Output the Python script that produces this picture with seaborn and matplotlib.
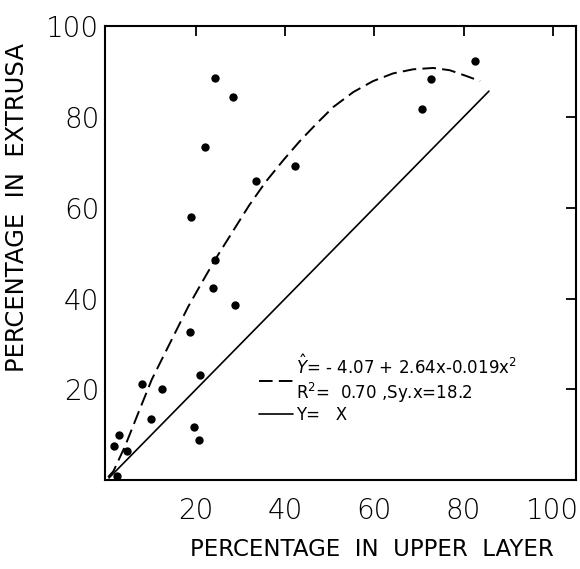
import matplotlib
matplotlib.use("Agg")
import matplotlib.pyplot as plt
from matplotlib.lines import Line2D
import seaborn as sns
import pandas as pd

# ---- data ----
upper_layer = [24.3, 28.2, 22.1, 33.4, 42.2, 18.8, 82.5, 72.7, 70.6,
               24.3, 23.9, 28.7, 18.6, 20.8, 8.0, 12.4, 10.0, 19.5,
               20.7, 2.8, 1.6, 4.5, 2.3]
extrusa = [88.6, 84.5, 73.4, 66.0, 69.3, 58.0, 92.4, 88.3, 81.8,
           48.4, 42.4, 38.7, 32.6, 23.1, 21.3, 20.0, 13.4, 11.7,
           8.9, 10.0, 7.5, 6.4, 0.9]

# dashed regression curve
fit_x = [0.3, 1.5, 4.1, 7.1, 10.1, 13.1, 15.7, 18.3, 21.3, 24.3, 28.0,
         31.9, 35.7, 39.6, 43.3, 47.1, 50.8, 55.3, 59.7, 64.2, 68.7,
         73.2, 76.9, 80.7, 83.7]
fit_y = [0.7, 2.0, 7.5, 14.9, 22.2, 28.1, 33.2, 38.3, 43.5, 48.6, 54.4,
         60.5, 65.8, 70.5, 74.7, 78.6, 82.2, 85.5, 87.9, 89.6, 90.5,
         90.8, 90.3, 89.0, 87.9]

identity_x = [0.5, 85.7]
identity_y = [0.5, 85.7]

xticks = [20, 40, 60, 80, 100]
yticks = [20, 40, 60, 80, 100]

fit_label = "$\\hat{Y}$= - 4.07 + 2.64x-0.019x$^{2}$\nR$^{2}$=  0.70 ,Sy.x=18.2"
identity_label = "Y=   X"
xlabel = "PERCENTAGE  IN  UPPER  LAYER"
ylabel = "PERCENTAGE  IN  EXTRUSA"

# ---- figure ----
sns.set_theme(style="white")
plt.rcParams["font.family"] = ["DejaVu Sans"]
plt.rcParams["mathtext.fontset"] = "dejavusans"
plt.rcParams["text.color"] = "black"
plt.rcParams["axes.labelcolor"] = "black"

fig = plt.figure(figsize=(5.8, 5.69), dpi=100)
ax = fig.add_axes([0.181, 0.156, 0.812, 0.798])

pts = pd.DataFrame({"x": upper_layer, "y": extrusa})
fit = pd.DataFrame({"x": fit_x, "y": fit_y})
ident = pd.DataFrame({"x": identity_x, "y": identity_y})

sns.lineplot(data=fit, x="x", y="y", ax=ax, color="black", lw=1.4,
             sort=False, estimator=None)
ax.lines[-1].set_dashes((7, 3.2))
sns.lineplot(data=ident, x="x", y="y", ax=ax, color="black", lw=1.2,
             sort=False, estimator=None)
sns.scatterplot(data=pts, x="x", y="y", ax=ax, color="black", s=36,
                edgecolor="black", linewidth=0, zorder=5)

ax.set_xlim(-0.4, 105.2)
ax.set_ylim(0, 100)
ax.set_xticks(xticks)
ax.set_yticks(yticks)
ax.set_xticklabels([str(t) for t in xticks], fontsize=20, fontweight="light")
ax.set_yticklabels([str(t) for t in yticks], fontsize=20, fontweight="light")
ax.tick_params(axis="both", direction="in", length=7, width=1.3,
               top=True, right=True, colors="black", labelcolor="black")
ax.tick_params(axis="x", pad=12)
ax.tick_params(axis="y", pad=4)
for s in ax.spines.values():
    s.set_visible(True)
    s.set_color("black")
    s.set_linewidth(1.5)
ax.set_xlabel("")
ax.set_ylabel("")

fig.text(0.641, 0.035, xlabel, ha="center", va="center", fontsize=16.5)
fig.text(0.030, 0.635, ylabel, ha="center", va="center", rotation=90,
         fontsize=17.5)

handles = [Line2D([], [], color="black", lw=1.4, dashes=(7, 3.2)),
           Line2D([], [], color="black", lw=1.2)]
leg = ax.legend(handles, [fit_label, identity_label], loc="upper left",
                bbox_to_anchor=(0.31, 0.296), frameon=False, fontsize=12,
                handlelength=2.0, handletextpad=0.2, labelspacing=0.05,
                borderpad=0)

fig.savefig("out.png", dpi=100, facecolor="white")
